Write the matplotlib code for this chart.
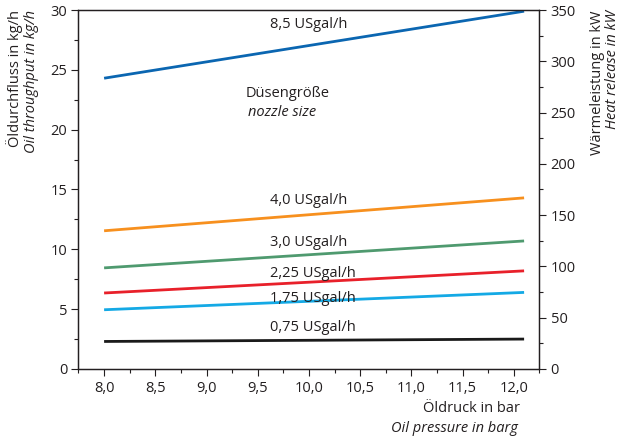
import numpy as np
import matplotlib
matplotlib.use("Agg")
import matplotlib.pyplot as plt
from matplotlib.ticker import MultipleLocator, FuncFormatter

plt.rcParams['font.family'] = ['Open Sans', 'DejaVu Sans']

# oil pressure (bar) - start and end of each curve
pressure = [8.0, 12.1]

nozzles = ['8,5 USgal/h', '4,0 USgal/h', '3,0 USgal/h',
           '2,25 USgal/h', '1,75 USgal/h', '0,75 USgal/h']
flow_85 = [24.3, 29.9]
flow_40 = [11.55, 14.3]
flow_30 = [8.45, 10.7]
flow_225 = [6.35, 8.2]
flow_175 = [4.95, 6.4]
flow_075 = [2.3, 2.5]
colors = ['#0b66b1', '#f7901e', '#4f9a6f', '#e8202a', '#14a9e5', '#1a1a1a']

# label anchors (left x, centre y in data units)
label_y = [28.8, 14.1, 10.6, 8.0, 5.85, 3.5]
label_x = 9.62

txt = '#231f20'

def comma(v, pos):
    return ('%.1f' % v).replace('.', ',')

def main():
    fig = plt.figure(figsize=(6.21, 4.41), dpi=100)
    ax = fig.add_axes([0.1264, 0.1633, 0.7423, 0.8140])

    series = [flow_85, flow_40, flow_30, flow_225, flow_175, flow_075]
    for s, c in zip(series, colors):
        ax.plot(pressure, s, color=c, lw=2.0, solid_capstyle='butt')

    for name, y in zip(nozzles, label_y):
        ax.text(label_x, y, name, ha='left', va='center', fontsize=10.5, color=txt)

    ax.text(9.38, 23.05, 'Düsengröße', fontsize=10.5, color=txt, va='center')
    ax.text(9.40, 21.4, 'nozzle size', fontsize=10.5, color=txt, va='center', style='italic')

    ax.set_xlim(7.75, 12.25)
    ax.set_ylim(0, 30)
    ax.xaxis.set_minor_locator(MultipleLocator(0.25))
    ax.set_xticks(np.arange(8.0, 12.01, 0.5))
    ax.xaxis.set_major_formatter(FuncFormatter(comma))
    ax.yaxis.set_major_locator(MultipleLocator(5))
    ax.yaxis.set_minor_locator(MultipleLocator(2.5))

    ax2 = ax.twinx()
    ax2.set_ylim(0, 350)
    ax2.yaxis.set_major_locator(MultipleLocator(50))
    ax2.yaxis.set_minor_locator(MultipleLocator(25))

    for a in (ax, ax2):
        a.tick_params(which='major', direction='out', length=5, width=0.8,
                      labelsize=10.5, colors=txt, pad=3)
        a.tick_params(which='minor', direction='out', length=3, width=0.8, colors=txt)
        for sp in a.spines.values():
            sp.set_color(txt)
            sp.set_linewidth(0.9)
    ax.tick_params(axis='x', pad=4)

    # axis titles
    fig.text(0.024, 0.977, 'Öldurchfluss in kg/h', rotation=90, ha='center', va='top',
             fontsize=10.5, color=txt)
    fig.text(0.050, 0.977, 'Oil throughput in kg/h', rotation=90, ha='center', va='top',
             fontsize=10.5, color=txt, style='italic')
    fig.text(0.962, 0.977, 'Wärmeleistung in kW', rotation=90, ha='center', va='top',
             fontsize=10.5, color=txt)
    fig.text(0.986, 0.977, 'Heat release in kW', rotation=90, ha='center', va='top',
             fontsize=10.5, color=txt, style='italic')
    fig.text(0.838, 0.073, 'Öldruck in bar', ha='right', va='center', fontsize=10.5, color=txt)
    fig.text(0.834, 0.028, 'Oil pressure in barg', ha='right', va='center', fontsize=10.5,
             color=txt, style='italic')

    fig.savefig('out.png', dpi=100)


if __name__ == "__main__":
    main()
